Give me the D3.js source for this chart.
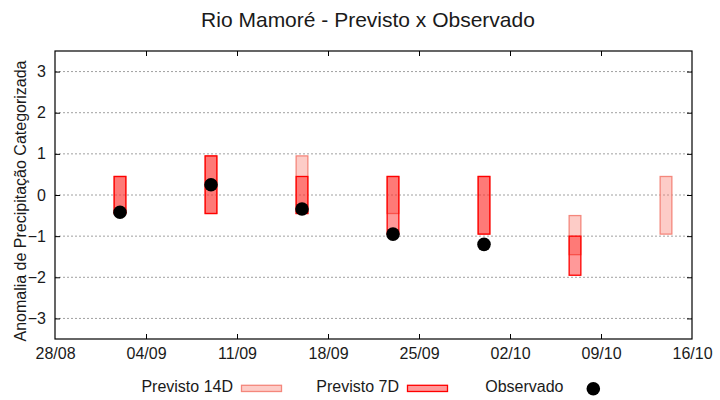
<!DOCTYPE html>
<html>
<head>
<meta charset="utf-8">
<script src="https://cdn.jsdelivr.net/npm/d3@7"></script>
<style>
  body { margin: 0; background: #fff; }
  svg { display: block; font-family: "Liberation Sans", Arial, sans-serif; }
</style>
</head>
<body>
<svg id="chart" width="720" height="400"></svg>
<script>
// ---- data ----
const year = 2023;
const tickLabels = ["28/08", "04/09", "11/09", "18/09", "25/09", "02/10", "09/10", "16/10"];
const yTicks = [-3, -2, -1, 0, 1, 2, 3];
const dates = ["02/09", "09/09", "16/09", "23/09", "30/09", "07/10", "14/10"];
const prev14Low  = [-0.45, -0.45, -0.45, -0.45, -0.95, -1.45, -0.95];
const prev14High = [ 0.45,  0.95,  0.95,  0.45,  0.45, -0.50,  0.45];
const prev7Low   = [-0.45, -0.45, -0.45, -0.95, -0.95, -1.95, null];
const prev7High  = [ 0.45,  0.95,  0.45,  0.45,  0.45, -1.00, null];
const observed   = [-0.42,  0.25, -0.34, -0.95, -1.20, null, null];

// ---- setup ----
const parse = s => d3.utcParse("%d/%m/%Y")(s + "/" + year);
const fmt = d3.utcFormat("%d/%m");
const svg = d3.select("#chart");
const L = 55, R = 692, T = 51, B = 339;
const x = d3.scaleUtc().domain([parse(tickLabels[0]), parse(tickLabels[tickLabels.length - 1])]).range([L, R]);
const y = d3.scaleLinear().domain([-3.5, 3.5]).range([B, T]);
const halfW = 0.45 * 864e5; // half bar width in ms
const textColor = "#1a1a1a";

// title
svg.append("text").attr("x", 368).attr("y", 27).attr("text-anchor", "middle")
  .attr("font-size", 21).attr("fill", textColor).text("Rio Mamoré - Previsto x Observado");

// grid
svg.append("g").selectAll("line").data(yTicks).join("line")
  .attr("x1", L).attr("x2", R).attr("y1", d => y(d)).attr("y2", d => y(d))
  .attr("stroke", "#a0a0a0").attr("stroke-width", 1).attr("stroke-dasharray", "2,2");

// axes
const tickDates = tickLabels.map(parse);
const gx = svg.append("g").attr("transform", `translate(0,${B})`)
  .call(d3.axisBottom(x).tickValues(tickDates).tickFormat(fmt).tickSizeInner(-5).tickSizeOuter(0).tickPadding(9));
const gxt = svg.append("g").attr("transform", `translate(0,${T})`)
  .call(d3.axisTop(x).tickValues(tickDates).tickFormat("").tickSizeInner(-5).tickSizeOuter(0));
const gy = svg.append("g").attr("transform", `translate(${L},0)`)
  .call(d3.axisLeft(y).tickValues(yTicks).tickFormat(d3.format("d")).tickSizeInner(-5).tickSizeOuter(0).tickPadding(9));
const gyr = svg.append("g").attr("transform", `translate(${R},0)`)
  .call(d3.axisRight(y).tickValues(yTicks).tickFormat("").tickSizeInner(-5).tickSizeOuter(0));
[gx, gxt, gy, gyr].forEach(g => {
  g.select(".domain").remove();
  g.selectAll(".tick line").attr("stroke", "#000");
  g.selectAll("text").attr("font-size", 16).attr("fill", textColor).attr("font-family", "Liberation Sans, Arial, sans-serif");
});
gx.selectAll(".tick:first-child line, .tick:last-child line").remove();
gxt.selectAll(".tick:first-child line, .tick:last-child line").remove();

// y label
svg.append("text").attr("transform", `translate(26,${(T + B) / 2 + 6}) rotate(-90)`)
  .attr("text-anchor", "middle").attr("font-size", 16).attr("fill", textColor)
  .text("Anomalia de Precipitação Categorizada");

// bars 14D
const c14Fill = "rgba(250,128,114,0.4)", c14Stroke = "#f4877c";
const c7Fill = "rgba(255,0,0,0.4)", c7Stroke = "#ff0000";
const data = dates.map((d, i) => ({
  t: parse(d), lo14: prev14Low[i], hi14: prev14High[i], lo7: prev7Low[i], hi7: prev7High[i], obs: observed[i]
}));
svg.append("g").selectAll("rect").data(data.filter(d => d.lo14 != null)).join("rect")
  .attr("x", d => x(new Date(+d.t - halfW))).attr("width", d => x(new Date(+d.t + halfW)) - x(new Date(+d.t - halfW)))
  .attr("y", d => y(d.hi14)).attr("height", d => y(d.lo14) - y(d.hi14))
  .attr("fill", c14Fill).attr("stroke", c14Stroke).attr("stroke-width", 1.3);
svg.append("g").selectAll("rect").data(data.filter(d => d.lo7 != null)).join("rect")
  .attr("x", d => x(new Date(+d.t - halfW))).attr("width", d => x(new Date(+d.t + halfW)) - x(new Date(+d.t - halfW)))
  .attr("y", d => y(d.hi7)).attr("height", d => y(d.lo7) - y(d.hi7))
  .attr("fill", c7Fill).attr("stroke", c7Stroke).attr("stroke-width", 1.3);

// observed dots
svg.append("g").selectAll("circle").data(data.filter(d => d.obs != null)).join("circle")
  .attr("cx", d => x(d.t)).attr("cy", d => y(d.obs)).attr("r", 6.8).attr("fill", "#000");

// frame
svg.append("rect").attr("x", L).attr("y", T).attr("width", R - L).attr("height", B - T)
  .attr("fill", "none").attr("stroke", "#000").attr("stroke-width", 1.2);

// legend
const lg = svg.append("g").attr("font-size", 16).attr("fill", textColor);
lg.append("text").attr("x", 233).attr("y", 392).attr("text-anchor", "end").text("Previsto 14D");
lg.append("rect").attr("x", 241.5).attr("y", 385.3).attr("width", 40).attr("height", 6.2)
  .attr("fill", c14Fill).attr("stroke", c14Stroke).attr("stroke-width", 1.3);
lg.append("text").attr("x", 399).attr("y", 392).attr("text-anchor", "end").text("Previsto 7D");
lg.append("rect").attr("x", 407.5).attr("y", 385.3).attr("width", 40).attr("height", 6.2)
  .attr("fill", c7Fill).attr("stroke", c7Stroke).attr("stroke-width", 1.3);
lg.append("text").attr("x", 563.5).attr("y", 392).attr("text-anchor", "end").text("Observado");
lg.append("circle").attr("cx", 593.3).attr("cy", 388.7).attr("r", 6.8).attr("fill", "#000");
</script>
</body>
</html>
